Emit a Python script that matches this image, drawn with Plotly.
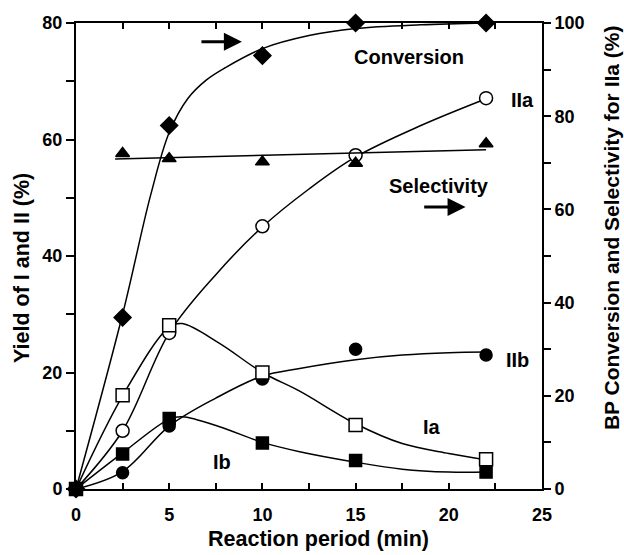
import plotly.graph_objects as go

# Sampling times (min)
t = [0, 2.5, 5, 10, 15, 22]

# Measured yields (%), left axis
IIa = [0, 10, 26.8, 45.1, 57.3, 67.1]
IIb = [0, 2.8, 10.8, 18.9, 24.0, 23.0]
Ia = [0, 16.1, 28.1, 20.0, 11.0, 5.1]
Ib = [0, 6.0, 12.1, 7.9, 4.9, 2.9]

# BP conversion and IIa selectivity (%), right axis
conversion = [0, 36.8, 78, 93, 100, 100]
sel_t = [2.5, 5, 10, 15, 22]
selectivity = [72.0, 70.9, 70.2, 69.9, 74.1]

# Smoothed trend curves
conv_fit_t = [0, 2.5, 4, 5, 6, 7, 8, 10, 12.5, 15, 18.5, 22]
conv_fit = [0, 37.5, 63, 76.5, 83.8, 87.8, 90.4, 94.5, 97.3, 98.8, 99.6, 100]

sel_fit_t = [2.1, 22]
sel_fit = [70.8, 72.8]

IIa_fit_t = [0, 2.5, 5, 7.5, 10, 12.5, 15, 18.5, 22]
IIa_fit = [0, 10, 26.8, 36.8, 45, 51.5, 57, 62.4, 67]

IIb_fit_t = [0, 2.5, 5, 7.5, 10, 12, 15, 17.5, 20, 22]
IIb_fit = [0, 3, 10.8, 15.6, 19.4, 20.7, 22.2, 23, 23.4, 23.5]

Ia_fit_t = [0, 2.5, 5, 5.7, 7.7, 10, 12, 15, 17.5, 20, 22]
Ia_fit = [0, 16, 27.8, 28.4, 25.0, 20, 16.8, 11.2, 7.8, 6.1, 5.0]

Ib_fit_t = [0, 2.5, 5, 5.7, 7.7, 10, 12, 15, 17.5, 20, 22]
Ib_fit = [0, 6.2, 12, 12.4, 10.7, 8, 6.4, 4.6, 3.4, 2.9, 2.9]

# Tick positions and labels (every other tick labelled)
x_tickvals = [0, 2.5, 5, 7.5, 10, 12.5, 15, 17.5, 20, 22.5, 25]
x_ticktext = ["0", "", "5", "", "10", "", "15", "", "20", "", "25"]
y_tickvals = [0, 10, 20, 30, 40, 50, 60, 70, 80]
y_ticktext = ["0", "", "20", "", "40", "", "60", "", "80"]
y2_tickvals = [0, 10, 20, 30, 40, 50, 60, 70, 80, 90, 100]
y2_ticktext = ["0", "", "20", "", "40", "", "60", "", "80", "", "100"]

FONT = "Liberation Sans, Arial, sans-serif"
LINE = dict(color="black", width=1.5, shape="spline", smoothing=1.0)

fig = go.Figure()


def curve(x, y, axis="y"):
    fig.add_trace(go.Scatter(x=x, y=y, mode="lines", line=LINE, yaxis=axis,
                             hoverinfo="skip", showlegend=False))


def points(x, y, symbol, size, fill, axis="y"):
    fig.add_trace(go.Scatter(
        x=x, y=y, mode="markers", yaxis=axis, showlegend=False, cliponaxis=False,
        marker=dict(symbol=symbol, size=size, color=fill,
                    line=dict(color="black", width=1.5))))


curve(conv_fit_t, conv_fit, "y2")
fig.add_trace(go.Scatter(x=sel_fit_t, y=sel_fit, mode="lines", yaxis="y2",
                         line=dict(color="black", width=1.5), showlegend=False))
curve(IIa_fit_t, IIa_fit)
curve(IIb_fit_t, IIb_fit)
curve(Ia_fit_t, Ia_fit)
curve(Ib_fit_t, Ib_fit)

points(sel_t, selectivity, "triangle-up", 12, "black", "y2")
points(t, IIa, "circle", 13, "white")
points(t, IIb, "circle", 12, "black")
points(t, Ia, "square", 13, "white")
points(t, Ib, "square", 12, "black")
points(t, conversion, "diamond", 13, "black", "y2")

TEXT = dict(family=FONT, color="black", weight="bold")

# Curve labels
labels = [
    ("Conversion", 17.86, 74.1),
    ("IIa", 23.93, 66.7),
    ("Selectivity", 19.47, 52.1),
    ("IIb", 23.7, 22.1),
    ("Ia", 19.1, 10.6),
    ("Ib", 7.83, 4.6),
]
annotations = [dict(x=x, y=y, xref="x", yref="y", text=s, showarrow=False,
                    font=dict(size=20, **TEXT))
               for s, x, y in labels]

# Arrows pointing to the right-hand axis
for x0, x1, y in [(6.65, 8.9, 76.8), (18.6, 20.9, 48.4)]:
    annotations.append(dict(
        x=x1, y=y, ax=x0, ay=y, xref="x", yref="y", axref="x", ayref="y",
        text="", showarrow=True, arrowhead=2, arrowsize=1.2, arrowwidth=3,
        arrowcolor="black"))

# Axis titles
annotations += [
    dict(text="Reaction period (min)", x=0.521, y=-0.107, xref="paper", yref="paper",
         showarrow=False, xanchor="center", yanchor="middle", font=dict(size=21.5, **TEXT)),
    dict(text="Yield of I and II (%)", x=-0.116, y=0.474, xref="paper", yref="paper",
         showarrow=False, textangle=-90, xanchor="center", yanchor="middle",
         font=dict(size=21.5, **TEXT)),
    dict(text="BP Conversion and Selectivity for IIa (%)", x=1.148, y=0.562,
         xref="paper", yref="paper", showarrow=False, textangle=-90,
         xanchor="center", yanchor="middle", font=dict(size=21, **TEXT)),
]

TICK = dict(tickcolor="black", tickwidth=1.5, tickmode="array")

fig.update_layout(
    width=624, height=555,
    margin=dict(l=76, r=82, t=23, b=66),
    paper_bgcolor="white", plot_bgcolor="white",
    font=dict(family=FONT, size=18, color="black", weight="bold"),
    annotations=annotations,
    xaxis=dict(
        range=[0, 25], tickvals=x_tickvals, ticktext=x_ticktext,
        ticks="inside", ticklen=6, **TICK,
        showline=True, linewidth=2, linecolor="black", mirror="ticks",
        showgrid=False, zeroline=False, ticklabelstandoff=8,
    ),
    yaxis=dict(
        range=[0, 80], tickvals=y_tickvals, ticktext=y_ticktext,
        ticks="outside", ticklen=8, **TICK,
        showline=True, linewidth=2, linecolor="black",
        showgrid=False, zeroline=False,
    ),
    yaxis2=dict(
        range=[0, 100], tickvals=y2_tickvals, ticktext=y2_ticktext,
        ticks="outside", ticklen=7, **TICK,
        overlaying="y", side="right",
        showline=True, linewidth=2, linecolor="black",
        showgrid=False, zeroline=False,
    ),
)

fig.write_html("out.html")
